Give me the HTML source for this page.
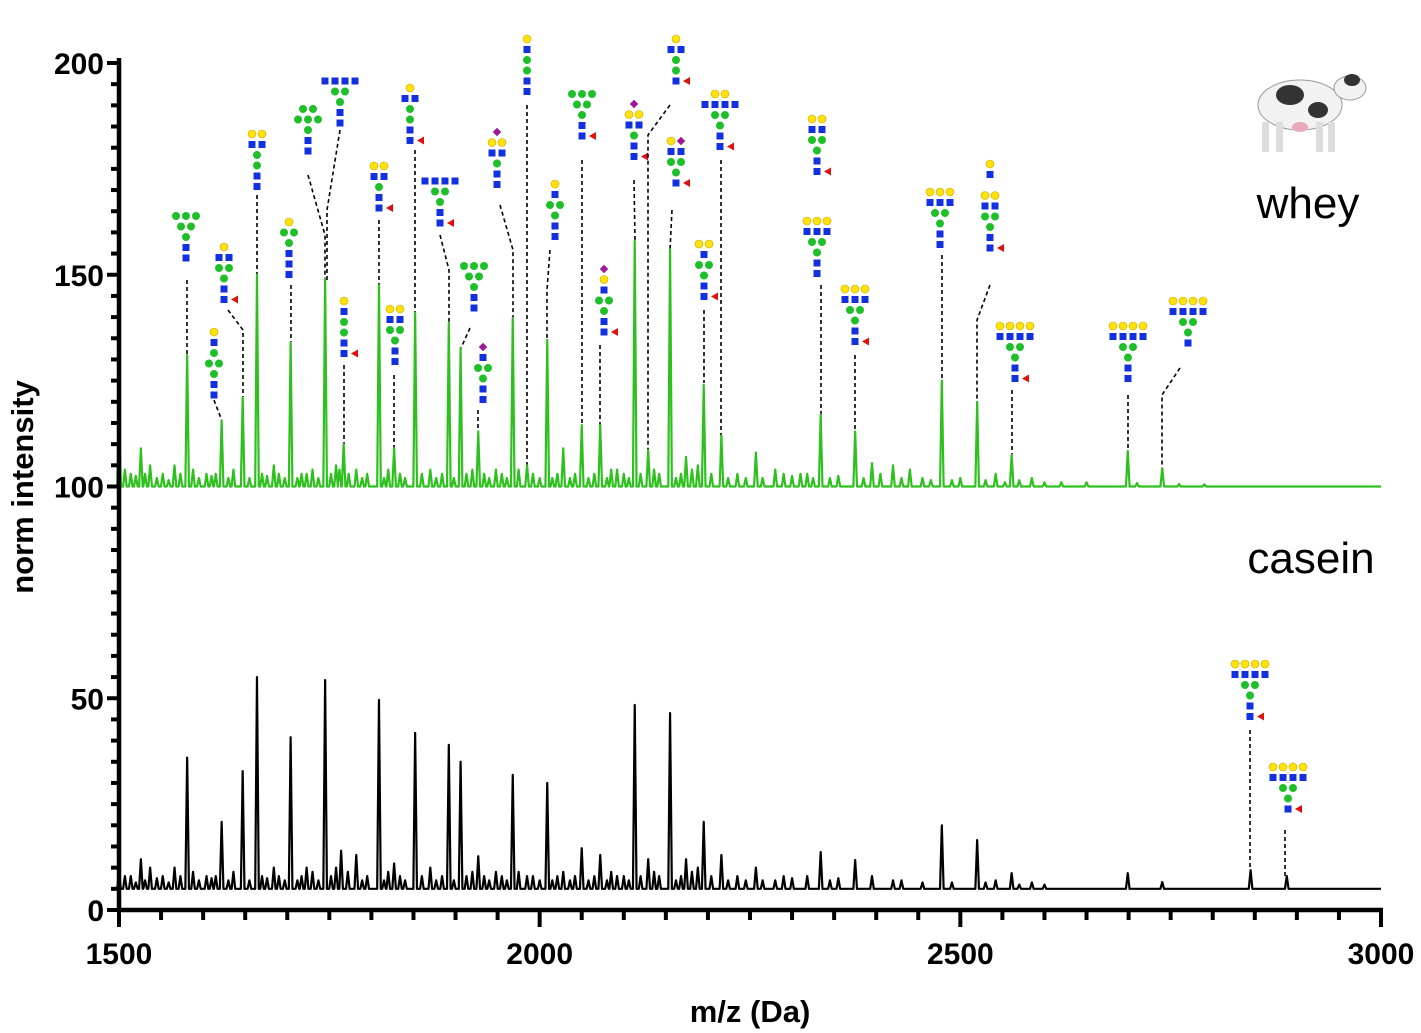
<!DOCTYPE html>
<html><head><meta charset="utf-8"><style>
body{margin:0;background:#fff}
svg{display:block;font-family:"Liberation Sans",sans-serif}
</style></head><body>
<svg id="chart" width="1421" height="1033" viewBox="0 0 1421 1033" xmlns="http://www.w3.org/2000/svg">
<g id="glycans"></g>
<g id="series"></g>
<g id="axes"></g>
<text x="1308" y="218" font-size="44" text-anchor="middle">whey</text>
<text x="1311" y="573" font-size="44" text-anchor="middle">casein</text>
<text x="750" y="1022" font-size="31" font-weight="bold" text-anchor="middle">m/z (Da)</text>
<text transform="translate(33,487) rotate(-90)" font-size="31" font-weight="bold" text-anchor="middle">norm intensity</text>
<g>
<ellipse cx="1300" cy="105" rx="42" ry="25" fill="#f2f2f2" stroke="#999" stroke-width="1"/>
<ellipse cx="1350" cy="88" rx="16" ry="12" fill="#f2f2f2" stroke="#999"/>
<ellipse cx="1290" cy="95" rx="14" ry="10" fill="#333"/>
<ellipse cx="1318" cy="110" rx="10" ry="8" fill="#333"/>
<ellipse cx="1352" cy="80" rx="8" ry="6" fill="#333"/>
<rect x="1262" y="122" width="7" height="30" fill="#ddd"/><rect x="1276" y="122" width="7" height="30" fill="#ddd"/>
<rect x="1316" y="122" width="7" height="30" fill="#ddd"/><rect x="1328" y="122" width="7" height="30" fill="#ddd"/>
<ellipse cx="1300" cy="127" rx="8" ry="5" fill="#e9a9b8"/>
</g>
</svg>
<script>
const NS="http://www.w3.org/2000/svg";
// data: major peaks
const wheyMz=[1500,1514,1526,1537,1566,1581,1604,1622,1647,1664,1684,1704,1723,1745,1767,1782,1809,1827,1852,1870,1892,1906,1927,1948,1968,1985,2009,2028,2050,2072,2092,2113,2129,2155,2174,2195,2216,2257,2280,2310,2334,2375,2395,2420,2440,2478,2520,2542,2561,2585,2699,2740,2790];
const wheyVal=[121,103,109,105,105,131,103,115.5,121,150,105,134,103,149,110,104,147.5,109,141,104,138.6,132.7,113,104,139.8,105,134.6,109,114.5,114.5,104,158,108.6,156,107,124,112,108,104,103,117,113,105.5,105,104,125,120,103,107.5,102,108.4,104.3,100.5];
// data: minor peaks (grass)
const wheyMinorMz=[1507,1520,1531,1545,1552,1559,1573,1588,1595,1610,1615,1630,1636,1655,1670,1676,1690,1697,1712,1717,1730,1737,1752,1758,1762,1773,1789,1795,1815,1820,1834,1840,1860,1877,1884,1898,1913,1920,1934,1940,1955,1961,1975,1992,2000,2015,2021,2036,2042,2058,2065,2080,2085,2100,2106,2120,2136,2142,2162,2168,2181,2188,2204,2224,2235,2245,2265,2290,2300,2318,2325,2345,2355,2385,2405,2430,2455,2465,2490,2500,2530,2553,2570,2600,2620,2650,2710,2760];
const wheyMinorVal=[104,102.5,103,102,103,101.5,103,104,102,102.5,103,102,104,102,103,102.5,103,102,102,103,104,102,103,105,104,103,102,103,102,104,103,102,103,102,103,102,103,104,103,102,103,102,104,103,102,102,103,102,103,102,103,102,104,103,102,103,104,103,102,103,104,105,103,102,103,102,102,103,102.5,103,102,102,102.5,102,103,102,102,101.5,101.5,102,101.5,101,101.5,101,101,101,100.8,100.6];
const caseinMz=[1500,1514,1526,1537,1566,1581,1604,1622,1647,1664,1684,1704,1723,1745,1764,1782,1809,1827,1852,1870,1892,1906,1927,1948,1968,1985,2009,2028,2050,2072,2092,2113,2129,2155,2174,2195,2216,2257,2280,2334,2375,2395,2420,2478,2520,2542,2561,2585,2699,2740,2845,2888];
const caseinVal=[9,8,12,10,10,36,8,20.8,32.8,55,10,40.8,10,54.3,14,13,49.6,11,41.8,10,39,35,12.7,9,31.9,8,30,9,14.6,13,8,48.4,12,46.5,12,20.8,13,10,7,13.7,11.8,8,7,20,16.5,7,8.7,6.5,8.7,6.6,9.4,8];
const caseinMinorMz=[1507,1520,1531,1545,1552,1559,1573,1588,1595,1610,1615,1630,1636,1655,1670,1676,1690,1697,1712,1717,1730,1737,1752,1758,1772,1789,1795,1815,1820,1834,1840,1860,1877,1884,1898,1913,1920,1934,1940,1955,1961,1975,1992,2000,2015,2021,2036,2042,2058,2065,2080,2085,2100,2106,2120,2136,2142,2162,2168,2181,2188,2204,2224,2235,2245,2265,2290,2300,2318,2345,2355,2430,2455,2490,2530,2570,2600];
const caseinMinorVal=[8,6.5,7,7.5,8,6.5,8,9,7,7.5,8,7,9,7,8,7.5,8,7,7,8,9,7,8,10,9,7,8,7,9,8,7,8,7,8,7,8,9,8,7,8,7,9,8,7,7,8,7,8,7,8,7,9,8,7,8,9,8,7,8,9,10,8,7,8,7,7,8,7.5,8,7,7.5,7,6.5,6.5,6.5,6,6];
const wheyBase=100, caseinBase=5;
const xTicks=[1500,2000,2500,3000];
const yTicks=[0,50,100,150,200];
const X=m=>119+(m-1500)*1262/1500;
const Y=v=>910-v*847/200;
function el(t,a,p){const e=document.createElementNS(NS,t);for(const k in a)e.setAttribute(k,a[k]);p.appendChild(e);return e;}
const ser=document.getElementById('series');
function spectrum(mz,val,mz2,val2,base,color,name){
  let d=`M${X(1500)},${Y(base)}`;
  const pts=mz.map((m,i)=>[m,val[i]]).concat(mz2.map((m,i)=>[m,val2[i]])).sort((a,b)=>a[0]-b[0]);
  pts.forEach(([m,v])=>{const x=X(m);d+=` L${x-1.8},${Y(base)} L${x},${Y(v)} L${x+1.8},${Y(base)}`;});
  d+=` L${X(3000)},${Y(base)}`;
  const p=el('path',{d,fill:'none',stroke:color,'stroke-width':2.2,'stroke-linejoin':'round'},ser);
  
  
}
spectrum(wheyMz,wheyVal,wheyMinorMz,wheyMinorVal,wheyBase,'#2ec11e','whey-spectrum');
spectrum(caseinMz,caseinVal,caseinMinorMz,caseinMinorVal,caseinBase,'#000','casein-spectrum');
// axes
const ax=document.getElementById('axes');
el('line',{x1:119,y1:58,x2:119,y2:912,stroke:'#000','stroke-width':4.5},ax);
el('line',{x1:117,y1:910,x2:1383,y2:910,stroke:'#000','stroke-width':4.5},ax);
for(let v=0;v<=200;v+=5){const maj=v%50===0;el('line',{x1:maj?107:111,y1:Y(v),x2:119,y2:Y(v),stroke:'#000','stroke-width':4},ax);}
for(let m=1500;m<=3000;m+=50){const maj=m%500===0;el('line',{x1:X(m),y1:910,x2:X(m),y2:maj?927:920,stroke:'#000','stroke-width':4},ax);}
yTicks.forEach(v=>{const t=el('text',{x:104,y:Y(v)+11,'font-size':30,'font-weight':'bold','text-anchor':'end'},ax);t.textContent=v;

});
xTicks.forEach(m=>{const t=el('text',{x:X(m),y:964,'font-size':30,'font-weight':'bold','text-anchor':'middle'},ax);t.textContent=m;

});
// glycans
const gl=document.getElementById('glycans');
const glycans=[
[186,212,"GGG|GG|G|B|B",0,[[187,280],[187,357]]],
[224,243,"Y|BB|GG|G|B|B",1,[[228,310],[243,330],[243,397]]],
[214,328,"Y|B|G|GG|G|B|B",0,[[214,400],[222,421]]],
[257,130,"YY|BB|G|G|B|B",0,[[257,195],[257,276]]],
[289,218,"Y|GG|G|B|B|B",0,[[291,285],[291,342]]],
[308,105,"GG|GGG|G|B|B",0,[[308,175],[325,235],[325,280]]],
[340,77,"BBBB|GG|G|B|B",0,[[340,130],[327,210],[327,280]]],
[344,297,"Y|B|G|G|B|B",1,[[344,365],[344,445]]],
[379,162,"YY|BB|G|B|B",1,[[379,220],[379,285]]],
[395,305,"YY|BB|GG|G|B|B",0,[[394,375],[394,448]]],
[410,84,"Y|BB|G|G|B|B",1,[[415,150],[415,312]]],
[440,177,"BBBB|GG|G|B|B",1,[[440,235],[449,270],[449,323]]],
[474,262,"GGG|GG|G|B|B",0,[[470,328],[461,348]]],
[483,343,"P|B|GG|G|B|B",0,[[478,410],[478,430]]],
[497,128,"P|YY|BB|G|B|B",0,[[500,205],[513,250],[513,318]]],
[527,35,"Y|B|G|G|B|B",0,[[527,105],[527,465]]],
[555,180,"Y|B|GG|G|B|B",0,[[550,250],[547,290],[547,340]]],
[582,90,"GGG|GG|G|B|B",1,[[582,160],[582,425]]],
[604,265,"P|Y|B|GG|G|B|B",1,[[600,345],[600,425]]],
[634,100,"P|YY|BB|G|B|B",1,[[634,180],[635,240]]],
[676,35,"Y|BB|G|G|B",1,[[670,105],[648,135],[648,450]]],
[676,137,"YP|BB|GG|G|B",1,[[672,210],[670,250]]],
[720,90,"YY|BBBB|GG|G|B|B",1,[[721,160],[721,436]]],
[704,240,"YY|B|GG|G|B|B",1,[[704,310],[704,383]]],
[817,115,"YY|BB|GG|G|B|B",1,[]],
[817,217,"YYY|BBB|GG|G|B|B",0,[[821,285],[821,415]]],
[855,285,"YYY|BBB|GG|G|B|B",1,[[855,355],[855,430]]],
[940,188,"YYY|BBB|GG|G|B|B",0,[[942,255],[942,380]]],
[990,160,"Y|B||YY|BB|GG|G|B|B",1,[[990,285],[977,320],[977,400]]],
[1015,322,"YYYY|BBBB|GG|G|B|B",1,[[1012,390],[1012,455]]],
[1128,322,"YYYY|BBBB|GG|G|B|B",0,[[1128,395],[1128,451]]],
[1188,297,"YYYY|BBBB|GG|G|B",0,[[1180,368],[1162,395],[1162,468]]],
[1250,660,"YYYY|BBBB|GG|G|B|B",1,[[1250,730],[1250,870]]],
[1288,763,"YYYY|BBBB|GG|G|B",1,[[1285,830],[1285,876]]]
];
const col={G:'#1fbf2a',B:'#1330e0',Y:'#ffe20a',P:'#a0189a'};
glycans.forEach(([cx,top,spec,fuc,lead])=>{
  const g=el('g',{},gl);
  
  
  const rows=spec.split('|');
  rows.forEach((r,ri)=>{
    const y=top+ri*10.5+4;
    [...r].forEach((c,ci)=>{
      const x=cx+(ci-(r.length-1)/2)*10;
      if(c==='B')el('rect',{x:x-3.5,y:y-3.5,width:7,height:7,fill:col.B},g);
      else if(c==='P')el('rect',{x:x-3,y:y-3,width:6,height:6,fill:col.P,transform:`rotate(45 ${x} ${y})`},g);
      else el('circle',{cx:x,cy:y,r:4,fill:col[c],stroke:c==='Y'?'#c9a400':'none','stroke-width':0.6},g);
    });
  });
  if(fuc){const y=top+(rows.length-1)*10.5+4;el('polygon',{points:`${cx+7},${y} ${cx+14},${y-4} ${cx+14},${y+4}`,fill:'#e01010'},g);}
  if(lead.length)el('polyline',{points:lead.map(p=>p.join(',')).join(' '),fill:'none',stroke:'#000','stroke-width':1.6,'stroke-dasharray':'4,3'},g);
});
</script>
</body></html>
